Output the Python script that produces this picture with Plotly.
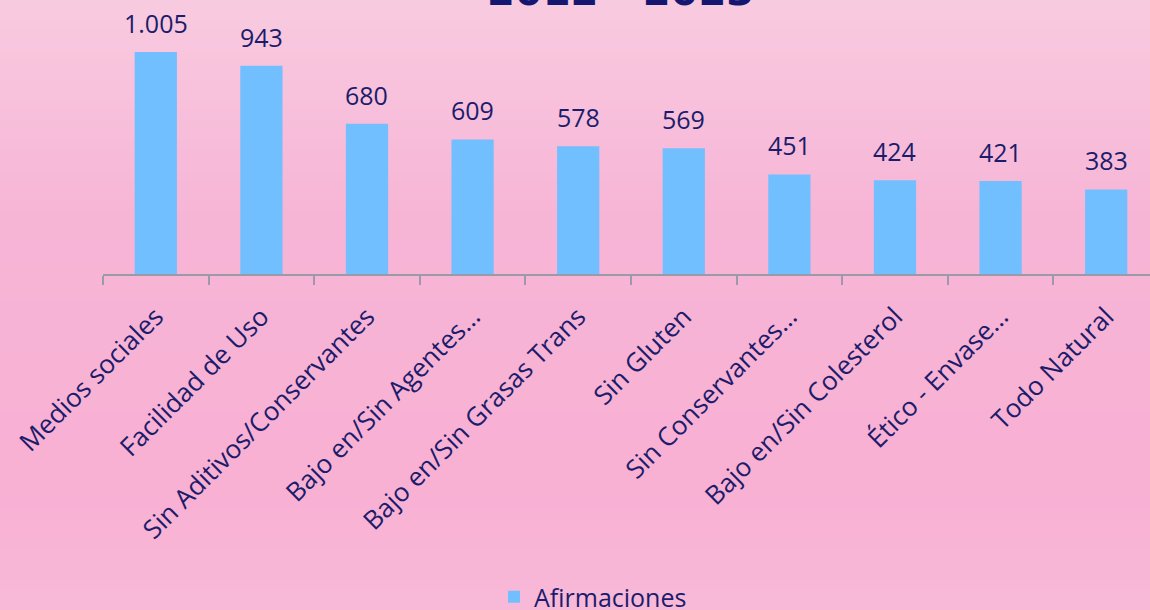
import plotly.graph_objects as go

categories = ["Medios sociales", "Facilidad de Uso", "Sin Aditivos/Conservantes",
              "Bajo en/Sin Agentes…", "Bajo en/Sin Grasas Trans", "Sin Gluten",
              "Sin Conservantes…", "Bajo en/Sin Colesterol", "Ético - Envase…", "Todo Natural"]
values = [1005, 943, 680, 609, 578, 569, 451, 424, 421, 383]
value_labels = ["1.005", "943", "680", "609", "578", "569", "451", "424", "421", "383"]
series_name = "Afirmaciones"
title_text = "2012 - 2023"

W, H = 1150, 610
navy = "#1b1c6b"
font_family = "Open Sans"
fs = 25

plot_top = 0
plot_bottom = 274
margin_l = 103
margin_b = H - plot_bottom
plot_h = plot_bottom - plot_top
plot_w = W - margin_l
px_per_unit = 222 / 1005.0
ymax = plot_h / px_per_unit

def py(ypix):
    return (plot_bottom - ypix) / plot_h
def px(xpix):
    return (xpix - margin_l) / plot_w

fig = go.Figure()
fig.add_trace(go.Bar(
    x=categories, y=values, name=series_name,
    marker=dict(color="#71bfff", line=dict(width=0)),
    width=0.4,
))

annotations = []
for c, v, lab in zip(categories, values, value_labels):
    annotations.append(dict(x=c, y=v, xref="x", yref="y", text=lab, showarrow=False,
                            xanchor="center", yanchor="bottom", yshift=10,
                            font=dict(family=font_family, size=fs, color=navy)))

# background vertical gradient (styling only)
stops = [(0.0, (248, 203, 224)), (0.35, (247, 181, 214)), (0.8, (248, 176, 211)), (1.0, (248, 185, 216))]
def col_at(t):
    for (t0, c0), (t1, c1) in zip(stops[:-1], stops[1:]):
        if t0 <= t <= t1:
            f = (t - t0) / (t1 - t0) if t1 > t0 else 0
            return "rgb(%d,%d,%d)" % tuple(round(a + (b - a) * f) for a, b in zip(c0, c1))
    return "rgb(%d,%d,%d)" % stops[-1][1]
shapes = []
N = 61
band = H / N
for i in range(N):
    t = (i + 0.5) / N
    y_top = i * band
    y_bot = (i + 1) * band + 3
    shapes.append(dict(type="rect", xref="paper", yref="paper", layer="below",
                       x0=px(-20), x1=px(W + 20), y0=py(y_bot), y1=py(y_top),
                       fillcolor=col_at(t), line=dict(width=0)))

annotations.append(dict(text="<b>" + title_text + "</b>", xref="paper", yref="paper",
                        x=px(620), y=py(8), xanchor="center", yanchor="bottom",
                        yshift=-8, showarrow=False,
                        font=dict(family="DejaVu Sans", size=40, color="#141670")))

fig.update_layout(
    width=W, height=H,
    margin=dict(l=margin_l, r=0, t=plot_top, b=margin_b, autoexpand=False),
    paper_bgcolor=col_at(0.6), plot_bgcolor="rgba(0,0,0,0)",
    shapes=shapes,
    showlegend=True,
    legend=dict(orientation="h", x=px(494), xanchor="left", y=py(597), yanchor="middle",
                font=dict(family=font_family, size=fs, color=navy), bgcolor="rgba(0,0,0,0)"),
    bargap=0.6,
    xaxis=dict(type="category", range=[-0.5, 9.415], tickson="boundaries",
               ticks="outside", ticklen=9, tickcolor="#9a9aa8", tickwidth=2,
               showline=True, linecolor="#9a9aa8", linewidth=2, showgrid=False,
               tickangle=-45, ticklabelstandoff=15,
               tickfont=dict(family=font_family, size=26, color=navy)),
    yaxis=dict(range=[0, ymax], visible=False, showgrid=False, zeroline=False),
    annotations=annotations,
)

fig.write_html("out.html", config={"displayModeBar": False},
               post_script="document.body.style.margin='0';document.body.style.padding='0';")
